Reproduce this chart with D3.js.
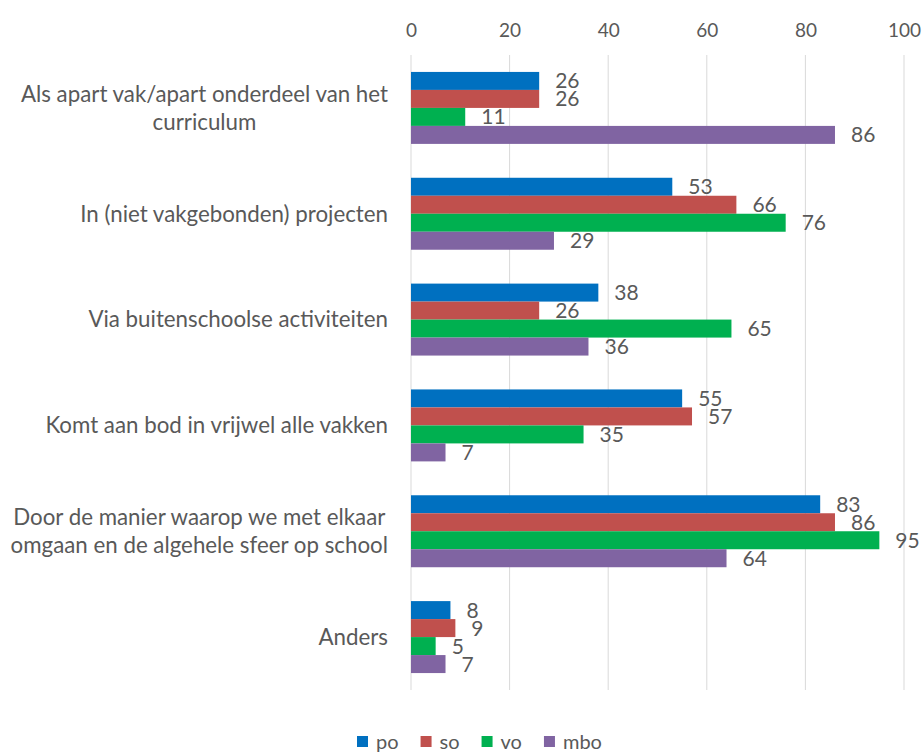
<!DOCTYPE html>
<html>
<head>
<meta charset="utf-8">
<script src="https://cdn.jsdelivr.net/npm/d3@7"></script>
<style>
  body { margin: 0; background: #fff; }
  svg text { font-family: "Lato", "Liberation Sans", sans-serif; fill: #595959; }
</style>
</head>
<body>
<div id="chart"></div>
<script>
const categories = [
  ["Als apart vak/apart onderdeel van het", "curriculum"],
  ["In (niet vakgebonden) projecten"],
  ["Via buitenschoolse activiteiten"],
  ["Komt aan bod in vrijwel alle vakken"],
  ["Door de manier waarop we met elkaar", "omgaan en de algehele sfeer op school"],
  ["Anders"]
];
const series = ["po", "so", "vo", "mbo"];
const colors = ["#0070C0", "#C0504D", "#00B050", "#8064A2"];
const values = {
  po:  [26, 53, 38, 55, 83, 8],
  so:  [26, 66, 26, 57, 86, 9],
  vo:  [11, 76, 65, 35, 95, 5],
  mbo: [86, 29, 36, 7, 64, 7]
};
const xTicks = [0, 20, 40, 60, 80, 100];

const W = 924, H = 753;
const svg = d3.select("#chart").append("svg")
  .attr("width", W)
  .attr("height", H);

const x = d3.scaleLinear().domain([0, 100]).range([411, 904]);
const y = d3.scaleBand()
  .domain(d3.range(categories.length))
  .range([55, 690])
  .paddingInner(0.32)
  .paddingOuter(0.16);
const ySub = d3.scaleBand().domain(series).range([0, y.bandwidth()]);

// gridlines
svg.append("g")
  .selectAll("line")
  .data(xTicks)
  .join("line")
  .attr("x1", d => x(d)).attr("x2", d => x(d))
  .attr("y1", 55).attr("y2", 690)
  .attr("stroke", "#d9d9d9")
  .attr("stroke-width", 1);

// top axis labels
svg.append("g")
  .attr("transform", "translate(0,37)")
  .call(d3.axisTop(x).tickValues(xTicks).tickSize(0).tickPadding(0))
  .call(g => g.select(".domain").remove())
  .call(g => g.selectAll("text")
    .attr("font-size", "19px")
    .attr("fill", "#595959")
    .style("font-family", "Lato, 'Liberation Sans', sans-serif"));

// bars
categories.forEach((cat, i) => {
  const g = svg.append("g").attr("transform", `translate(0,${y(i)})`);
  series.forEach((s, j) => {
    const v = values[s][i];
    g.append("rect")
      .attr("x", x(0))
      .attr("y", ySub(s))
      .attr("width", x(v) - x(0))
      .attr("height", ySub.bandwidth())
      .attr("fill", colors[j]);
    g.append("text")
      .attr("x", x(v) + 16)
      .attr("y", ySub(s) + ySub.bandwidth() / 2)
      .attr("dy", "0.36em")
      .attr("font-size", "21px")
      .text(v);
  });
});

// category labels, block right aligned, lines centered within block
categories.forEach((lines, i) => {
  const lineH = 28;
  const cy = y(i) + y.bandwidth() / 2;
  const g = svg.append("g");
  const texts = lines.map((l, k) => g.append("text")
    .attr("y", cy + (k - (lines.length - 1) / 2) * lineH)
    .attr("dy", "0.35em")
    .attr("font-size", "22.3px")
    .attr("text-anchor", "middle")
    .text(l));
  const maxW = d3.max(texts, t => t.node().getComputedTextLength());
  texts.forEach(t => t.attr("x", 388 - maxW / 2));
});

// legend
const legend = svg.append("g").attr("transform", "translate(357,742)");
let lx = 0;
series.forEach((s, j) => {
  legend.append("rect")
    .attr("x", lx).attr("y", -6)
    .attr("width", 11).attr("height", 11)
    .attr("fill", colors[j]);
  const t = legend.append("text")
    .attr("x", lx + 19)
    .attr("y", 0)
    .attr("dy", "0.35em")
    .attr("font-size", "20px")
    .text(s);
  lx += 19 + t.node().getComputedTextLength() + 22;
});
</script>
</body>
</html>
